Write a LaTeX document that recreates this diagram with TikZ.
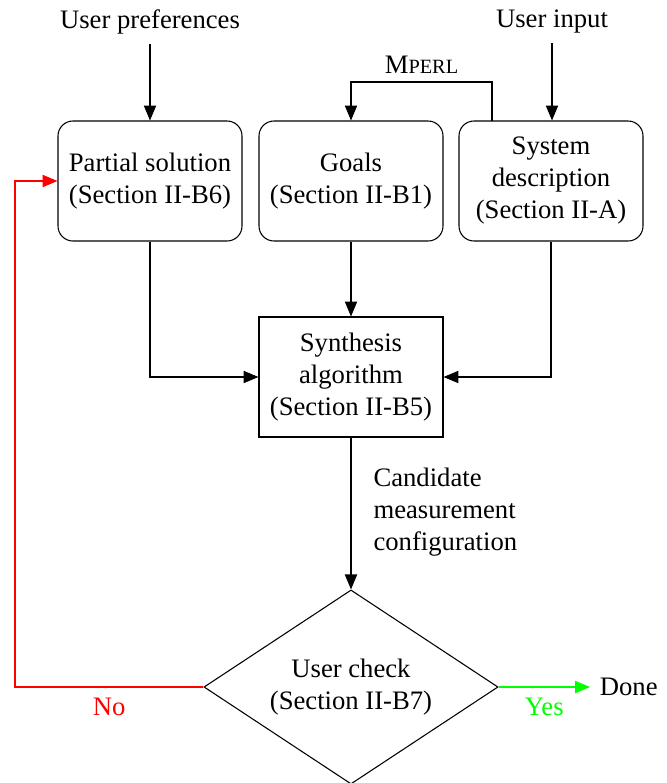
\documentclass[tikz,border=0pt]{standalone}
\usepackage{fontspec}
\setmainfont{Liberation Serif}
\usetikzlibrary{shapes.geometric,arrows.meta}
\tikzset{
  every node/.style={font=\fontsize{10}{12}\selectfont},
  rbox/.style={draw, rounded corners=5.6pt, minimum width=69pt, minimum height=45pt, align=center, inner sep=2pt},
  sbox/.style={draw, minimum width=69pt, minimum height=45pt, align=center, inner sep=2pt},
  check/.style={draw, diamond, aspect=1.5, minimum width=110.3pt, minimum height=72.8pt, inner sep=0pt, align=center},
  arr/.style={-{Triangle[length=5.6pt,width=4.6pt]}},
  lbl/.style={inner sep=1pt},
}
\begin{document}
\begin{tikzpicture}[x=0.375pt, y=-0.375pt, line width=0.4pt]
  \useasboundingbox (0,0) rectangle (666,783);

  % inputs
  \node (pref) at (150,22) {User preferences};
  \node (uin) at (552,22) {User input};

  % top row of boxes
  \node[rbox] (partial) at (150,181) {Partial solution\\(Section II-B6)};
  \node[rbox] (goals) at (351,181) {Goals\\(Section II-B1)};
  \node[rbox] (sys) at (551,181) {System\\description\\(Section II-A)};

  % synthesis and check
  \node[sbox] (synth) at (351,377) {Synthesis\\algorithm\\(Section II-B5)};
  \node[check] (chk) at (351,687) {User check\\(Section II-B7)};
  \node[anchor=west, inner sep=3.5pt] (done) at (590,687) {Done};

  % connectors
  \draw[arr] (pref.south) -- (partial.north);
  \draw[arr] (uin.south) -- (uin.south |- sys.north);
  \coordinate (mpa) at (492,121);
  \coordinate (mpb) at (492,82);
  \coordinate (mpc) at (351,82);
  \draw[arr] (mpa) -- (mpb) -- node[above=2pt, lbl] (mperl) {M{\fontsize{7.6}{9}\selectfont PERL}} (mpc) -- (goals.north);

  \draw[arr] (goals.south) -- (synth.north);
  \draw[arr] (partial.south) |- (synth.west);
  \draw[arr] (sys.south) |- (synth.east);

  \draw[arr] (synth.south) -- (chk.north);
  \node[anchor=west, align=left, inner sep=0pt] (cand) at (373,512) {Candidate\\measurement\\configuration};

  \coordinate (loop) at (15,687);
  \draw[arr, red] (chk.west) -- node[below=3pt, pos=0.5, lbl, text=red] (no) {No} (loop) |- (partial.west);
  \draw[arr, green] (chk.east) -- node[below=3pt, lbl, text=green] (yes) {Yes} (done.west);
\end{tikzpicture}
\end{document}
